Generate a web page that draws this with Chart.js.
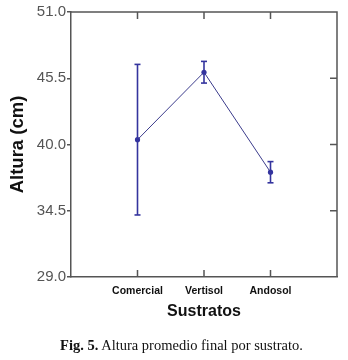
<!DOCTYPE html>
<html>
<head>
<meta charset="utf-8">
<script src="https://cdn.jsdelivr.net/npm/chart.js@4.4.1/dist/chart.umd.min.js"></script>
<style>
  html, body { margin: 0; padding: 0; background: #fff; }
  #wrap { position: relative; width: 348px; height: 360px; }
  #caption {
    position: absolute; left: 0; width: 363px; top: 337px;
    text-align: center; font: 14.5px "Liberation Serif", serif; color: #111;
  }
</style>
</head>
<body>
<div id="wrap">
  <canvas id="chart" width="348" height="360"></canvas>
  <div id="caption"><b>Fig. 5.</b> Altura promedio final por sustrato.</div>
</div>
<script>
const categories = ['Comercial', 'Vertisol', 'Andosol']
const means = [40.4, 46.0, 37.7]
const errors = [6.25, 0.9, 0.88]
const yTicks = [29.0, 34.5, 40.0, 45.5, 51.0]

const frameColor = '#555'
const lineColor = '#3c3c8c'
const barColor = '#34349e'

// points sit at x = 1..n on a linear axis from 0 to n+1
const meanPoints = means.map((m, i) => ({ x: i + 1, y: m }))

const errorSets = means.map((m, i) => ({
  data: [{ x: i + 1, y: m - errors[i] }, { x: i + 1, y: m + errors[i] }],
  showLine: true,
  borderColor: barColor,
  borderWidth: 1.6,
  pointStyle: 'line',
  pointRadius: 3,
  pointBorderWidth: 1.6,
  pointBorderColor: barColor,
  pointHoverRadius: 3
}))

// top/right frame with inward ticks
const framePlugin = {
  id: 'frame',
  afterDraw(chart) {
    const { ctx, chartArea: a, scales } = chart
    ctx.save()
    ctx.strokeStyle = frameColor
    ctx.lineWidth = 1.5
    ctx.beginPath()
    ctx.moveTo(a.left, a.top)
    ctx.lineTo(a.right, a.top)
    ctx.lineTo(a.right, a.bottom)
    categories.forEach((c, i) => {
      const x = scales.x.getPixelForValue(i + 1)
      ctx.moveTo(x, a.top); ctx.lineTo(x, a.top + 7)
      ctx.moveTo(x, a.bottom); ctx.lineTo(x, a.bottom - 7)
    })
    yTicks.slice(1, -1).forEach(v => {
      const y = scales.y.getPixelForValue(v)
      ctx.moveTo(a.right, y); ctx.lineTo(a.right - 7, y)
    })
    ctx.stroke()
    ctx.restore()
  }
}

new Chart(document.getElementById('chart'), {
  type: 'scatter',
  data: {
    datasets: [
      ...errorSets,
      {
        data: meanPoints,
        showLine: true,
        borderColor: lineColor,
        borderWidth: 1,
        pointRadius: 2.6,
        pointBackgroundColor: barColor,
        pointBorderColor: barColor,
        pointBorderWidth: 0
      }
    ]
  },
  options: {
    responsive: false,
    animation: false,
    layout: { padding: { top: 12, right: 11, left: 0, bottom: 0 } },
    plugins: { legend: { display: false }, tooltip: { enabled: false } },
    scales: {
      x: {
        type: 'linear',
        min: 0,
        max: categories.length + 1,
        afterBuildTicks: s => { s.ticks = categories.map((c, i) => ({ value: i + 1 })) },
        afterFit: s => { s.height = 83 },
        grid: { display: false },
        border: { display: true, color: frameColor, width: 1.5 },
        ticks: {
          padding: 0,
          color: '#111',
          font: { family: 'Liberation Sans', size: 10.5, weight: 'bold' },
          callback: v => categories[v - 1] || ''
        },
        title: {
          display: true,
          text: 'Sustratos',
          color: '#111',
          font: { family: 'Liberation Sans', size: 16, weight: 'bold' },
          padding: { top: 0, bottom: 39 }
        }
      },
      y: {
        min: yTicks[0],
        max: yTicks[yTicks.length - 1],
        afterBuildTicks: s => { s.ticks = yTicks.map(v => ({ value: v })) },
        afterFit: s => { s.width = 71 },
        grid: { drawOnChartArea: false, drawTicks: true, tickLength: 4, color: frameColor, lineWidth: 1.5 },
        border: { display: true, color: frameColor, width: 1.5 },
        ticks: {
          padding: 1,
          color: '#555',
          font: { family: 'Liberation Sans', size: 15 },
          callback: v => v.toFixed(1)
        },
        title: {
          display: true,
          text: 'Altura (cm)',
          color: '#111',
          font: { family: 'Liberation Sans', size: 18.5, weight: 'bold' },
          padding: { top: 7, bottom: 0 }
        }
      }
    }
  },
  plugins: [framePlugin]
})
</script>
</body>
</html>
